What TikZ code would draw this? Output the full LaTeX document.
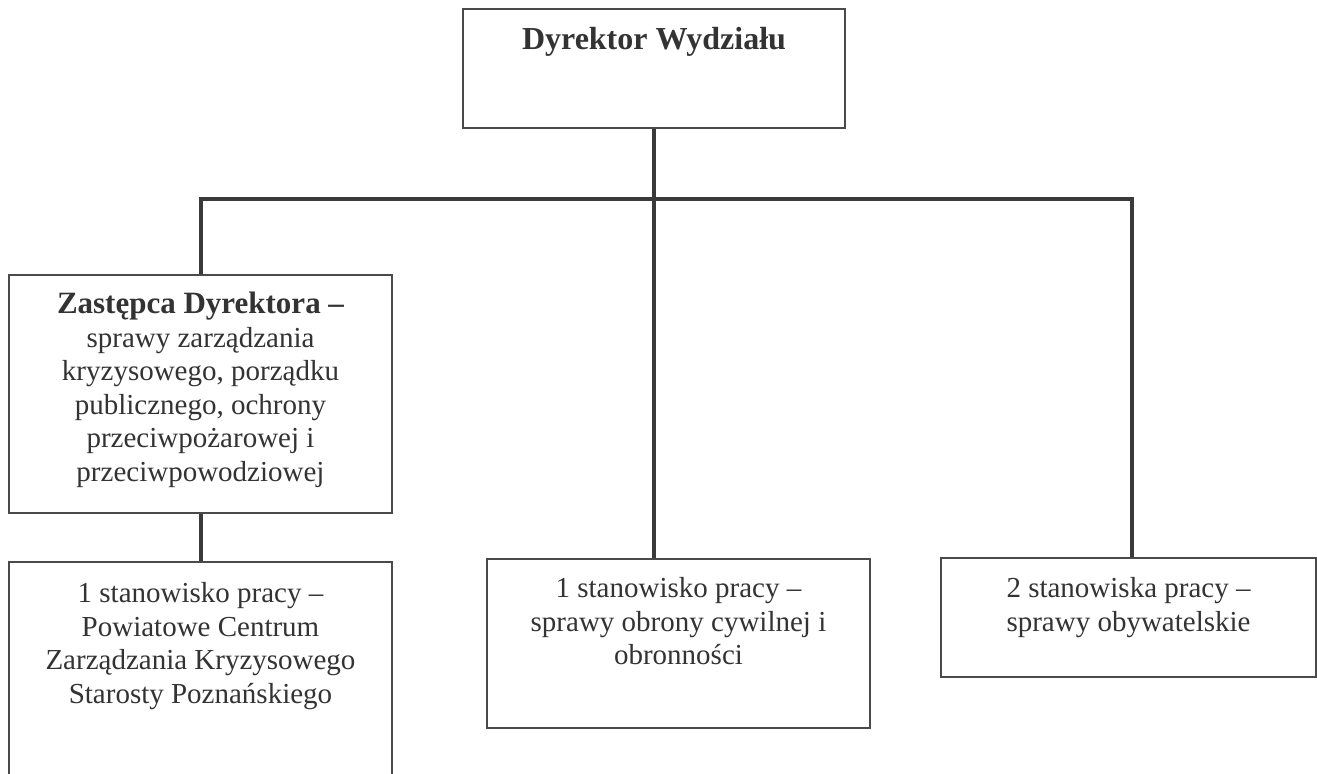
\documentclass[tikz,border=0pt]{standalone}
\usepackage{fontspec}
\setmainfont{Liberation Serif}
\definecolor{conncol}{HTML}{3A3A3A}
\definecolor{boxcol}{HTML}{4A4A4A}
\definecolor{txtcol}{HTML}{333333}
\tikzset{
  conn/.style={draw=conncol, line width=2pt},
  orgbox/.style={draw=boxcol, line width=1pt, rectangle, inner sep=0pt, fill=none},
  orgtext/.style={text=txtcol, align=center, inner sep=0pt, anchor=north,
    font=\fontsize{14.5}{16.75}\selectfont},
}
\begin{document}
\begin{tikzpicture}[x=0.5pt,y=-0.5pt]
\clip (0,0) rectangle (1317,774);
\fill[white] (0,0) rectangle (1317,774);
% boxes
\node[orgbox, minimum width=191pt, minimum height=59.5pt] (top) at (654,68.5) {};
\node[orgbox, minimum width=191.5pt, minimum height=119pt] (zast) at (200.5,394) {};
\node[orgbox, minimum width=191.5pt, minimum height=119pt] (pczk) at (200.5,681) {};
\node[orgbox, minimum width=191.5pt, minimum height=84.5pt] (obr) at (678.5,643.5) {};
\node[orgbox, minimum width=187.5pt, minimum height=59.5pt] (obyw) at (1128.5,617.5) {};
% texts
\node[text=txtcol, inner sep=0pt, anchor=base, font=\fontsize{16}{19}\selectfont\bfseries] (toptxt) at (654,50) {Dyrektor Wydziału};
\node[orgtext] (zasttxt) at (200.5,292) {{\fontsize{15.5}{16.75}\selectfont\bfseries Zastępca Dyrektora –}\\ sprawy zarządzania\\ kryzysowego, porządku\\ publicznego, ochrony\\ przeciwpożarowej i\\ przeciwpowodziowej};
\node[orgtext] (pczktxt) at (200.5,582) {1 stanowisko pracy –\\ Powiatowe Centrum\\ Zarządzania Kryzysowego\\ Starosty Poznańskiego};
\node[orgtext] (obrtxt) at (678.5,577) {1 stanowisko pracy –\\ sprawy obrony cywilnej i\\ obronności};
\node[orgtext] (obywtxt) at (1128.5,577) {2 stanowiska pracy –\\ sprawy obywatelskie};
% connectors
\coordinate (jm) at (654,199);
\draw[conn] (top.south) -- (jm);
\draw[conn] (zast.north) |- (jm) -| ([xshift=1.75pt]obyw.north);
\draw[conn] (jm) -- (obr.north -| jm);
\draw[conn] (zast.south) -- (pczk.north);
\end{tikzpicture}
\end{document}
